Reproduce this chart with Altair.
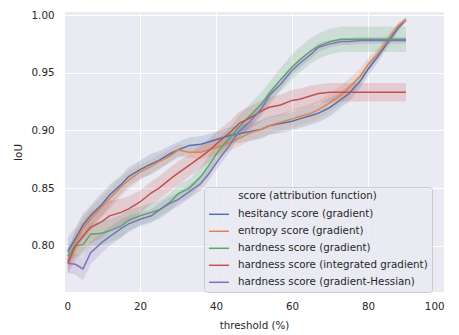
import altair as alt
import pandas as pd

# thresholds (%) at which values were read
T = [1, 3, 5, 7, 10, 12, 15, 17, 20, 23, 25, 28, 30, 33, 36, 38, 41, 44,
     46, 49, 52, 54, 57, 60, 62, 65, 67, 70, 73, 75, 78, 80, 83, 86, 88, 90]

names = [
    "hesitancy score (gradient)",
    "entropy score (gradient)",
    "hardness score (gradient)",
    "hardness score (integrated gradient)",
    "hardness score (gradient-Hessian)",
]
colors = ["#4c72b0", "#dd8452", "#55a868", "#c44e52", "#8172b3"]

hesitancy = [0.795, 0.806, 0.818, 0.826, 0.836, 0.844, 0.853, 0.860, 0.866, 0.871,
             0.874, 0.880, 0.883, 0.887, 0.888, 0.890, 0.893, 0.896, 0.897, 0.899,
             0.901, 0.904, 0.906, 0.908, 0.910, 0.913, 0.915, 0.920, 0.927, 0.932,
             0.943, 0.953, 0.966, 0.980, 0.989, 0.996]
entropy = [0.787, 0.803, 0.815, 0.823, 0.834, 0.841, 0.851, 0.857, 0.864, 0.869,
           0.873, 0.878, 0.883, 0.881, 0.881, 0.883, 0.886, 0.890, 0.893, 0.898,
           0.901, 0.904, 0.907, 0.910, 0.912, 0.915, 0.918, 0.924, 0.931, 0.937,
           0.947, 0.957, 0.968, 0.982, 0.991, 0.996]
hard_grad = [0.791, 0.800, 0.801, 0.810, 0.811, 0.813, 0.817, 0.822, 0.826, 0.829,
             0.831, 0.838, 0.845, 0.850, 0.860, 0.869, 0.884, 0.895, 0.903, 0.913,
             0.923, 0.932, 0.944, 0.955, 0.961, 0.969, 0.973, 0.977, 0.979, 0.979,
             0.979, 0.979, 0.979, 0.979, 0.979, 0.979]
hard_ig = [0.785, 0.800, 0.808, 0.816, 0.821, 0.826, 0.829, 0.832, 0.838, 0.846,
           0.850, 0.858, 0.863, 0.870, 0.877, 0.882, 0.891, 0.899, 0.906, 0.911,
           0.917, 0.920, 0.922, 0.926, 0.927, 0.930, 0.932, 0.933, 0.933, 0.933,
           0.933, 0.933, 0.933, 0.933, 0.933, 0.933]
hard_gh = [0.785, 0.784, 0.780, 0.794, 0.803, 0.808, 0.815, 0.819, 0.823, 0.826,
           0.831, 0.837, 0.840, 0.847, 0.854, 0.862, 0.876, 0.889, 0.899, 0.908,
           0.919, 0.930, 0.940, 0.952, 0.958, 0.966, 0.972, 0.975, 0.977, 0.977,
           0.978, 0.978, 0.978, 0.978, 0.978, 0.978]

# confidence-band half widths
ci_hes = [0.012, 0.010, 0.010, 0.009, 0.010, 0.009, 0.008, 0.008, 0.008, 0.009,
          0.008, 0.007, 0.007, 0.007, 0.007, 0.007, 0.007, 0.007, 0.008, 0.008,
          0.008, 0.008, 0.008, 0.008, 0.008, 0.008, 0.008, 0.008, 0.007, 0.007,
          0.006, 0.006, 0.005, 0.004, 0.003, 0.002]
ci_ent = [0.010, 0.010, 0.010, 0.010, 0.009, 0.009, 0.008, 0.008, 0.007, 0.006,
          0.006, 0.006, 0.005, 0.005, 0.006, 0.006, 0.007, 0.007, 0.007, 0.007,
          0.007, 0.007, 0.007, 0.008, 0.008, 0.008, 0.008, 0.008, 0.008, 0.008,
          0.007, 0.006, 0.005, 0.004, 0.003, 0.002]
ci_hg = [0.008, 0.009, 0.010, 0.010, 0.010, 0.010, 0.010, 0.009, 0.008, 0.008,
         0.008, 0.008, 0.008, 0.008, 0.008, 0.009, 0.009, 0.009, 0.010, 0.010,
         0.010, 0.010, 0.010, 0.011, 0.011, 0.011, 0.011, 0.011, 0.011, 0.011,
         0.011, 0.011, 0.011, 0.011, 0.011, 0.011]
ci_ig = [0.010, 0.012, 0.013, 0.014, 0.014, 0.013, 0.012, 0.011, 0.010, 0.010,
         0.010, 0.010, 0.010, 0.010, 0.010, 0.010, 0.010, 0.010, 0.010, 0.010,
         0.009, 0.009, 0.009, 0.009, 0.009, 0.009, 0.008, 0.008, 0.008, 0.008,
         0.008, 0.008, 0.008, 0.008, 0.008, 0.008]
ci_gh = [0.008, 0.009, 0.010, 0.010, 0.009, 0.008, 0.008, 0.007, 0.006, 0.006,
         0.006, 0.006, 0.006, 0.006, 0.006, 0.006, 0.006, 0.006, 0.005, 0.005,
         0.005, 0.005, 0.005, 0.004, 0.004, 0.004, 0.004, 0.003, 0.003, 0.003,
         0.003, 0.003, 0.003, 0.003, 0.003, 0.003]

series = [hesitancy, entropy, hard_grad, hard_ig, hard_gh]
cis = [ci_hes, ci_ent, ci_hg, ci_ig, ci_gh]

rows = []
for k, (name, vals, ci) in enumerate(zip(names, series, cis)):
    for t, v, c in zip(T, vals, ci):
        rows.append({"score": name, "order": k, "threshold": t, "IoU": v,
                     "lo": v - c, "hi": v + c})
df = pd.DataFrame(rows)

FONT = "DejaVu Sans"
TXT = "#262626"

x = alt.X("threshold:Q", title="threshold (%)",
          scale=alt.Scale(domain=[0, 100], nice=False),
          axis=alt.Axis(values=[0, 20, 40, 60, 80, 100], labelPadding=9, titlePadding=9))
yscale = alt.Scale(domain=[0.76, 1.0026], nice=False, zero=False)

color_scale = alt.Scale(domain=names, range=colors)

base = alt.Chart(df)

band = base.mark_area(opacity=0.2, clip=True).encode(
    x=x,
    y=alt.Y("lo:Q", scale=yscale),
    y2="hi:Q",
    color=alt.Color("score:N", scale=color_scale, legend=None),
    order=alt.Order("order:Q"),
)

line = base.mark_line(strokeWidth=1.5, clip=True).encode(
    x=x,
    y=alt.Y("IoU:Q", title="IoU", scale=yscale,
            axis=alt.Axis(values=[0.80, 0.85, 0.90, 0.95, 1.00], format=".2f",
                          labelPadding=10, titlePadding=8)),
    color=alt.Color("score:N", scale=color_scale,
                    legend=alt.Legend(
                        title="\u2800" * 4 + "score (attribution function)",
                        orient="none", legendX=140, legendY=175,
                        symbolType="stroke", symbolSize=400, symbolStrokeWidth=1.5,
                        labelFontSize=10.3, titleFontSize=10.3,
                        titleFontWeight="normal", labelFont=FONT, titleFont=FONT,
                        labelColor=TXT, titleColor=TXT, titleLimit=400,
                        rowPadding=-4, titlePadding=2, padding=4,
                        fillColor="rgba(234,234,242,0.85)", strokeColor="#cccccc",
                        cornerRadius=3, labelOffset=8, labelLimit=400)),
    detail="score:N",
)

chart = alt.layer(band, line).resolve_legend(color="independent").properties(
    width=380, height=280,
    autosize=alt.AutoSizeParams(type="none"),
    padding={"left": 56, "top": 4, "right": 7, "bottom": 40},
).configure_view(
    fill="#eaeaf2", stroke=None
).configure_axis(
    grid=True, gridColor="white", gridWidth=1, domain=False, ticks=False,
    labelFont=FONT, titleFont=FONT, labelFontSize=10.3, titleFontSize=10.3,
    labelColor=TXT, titleColor=TXT, titleFontWeight="normal",
)

chart.save("out.html", embed_options={"renderer": "svg", "actions": False})
